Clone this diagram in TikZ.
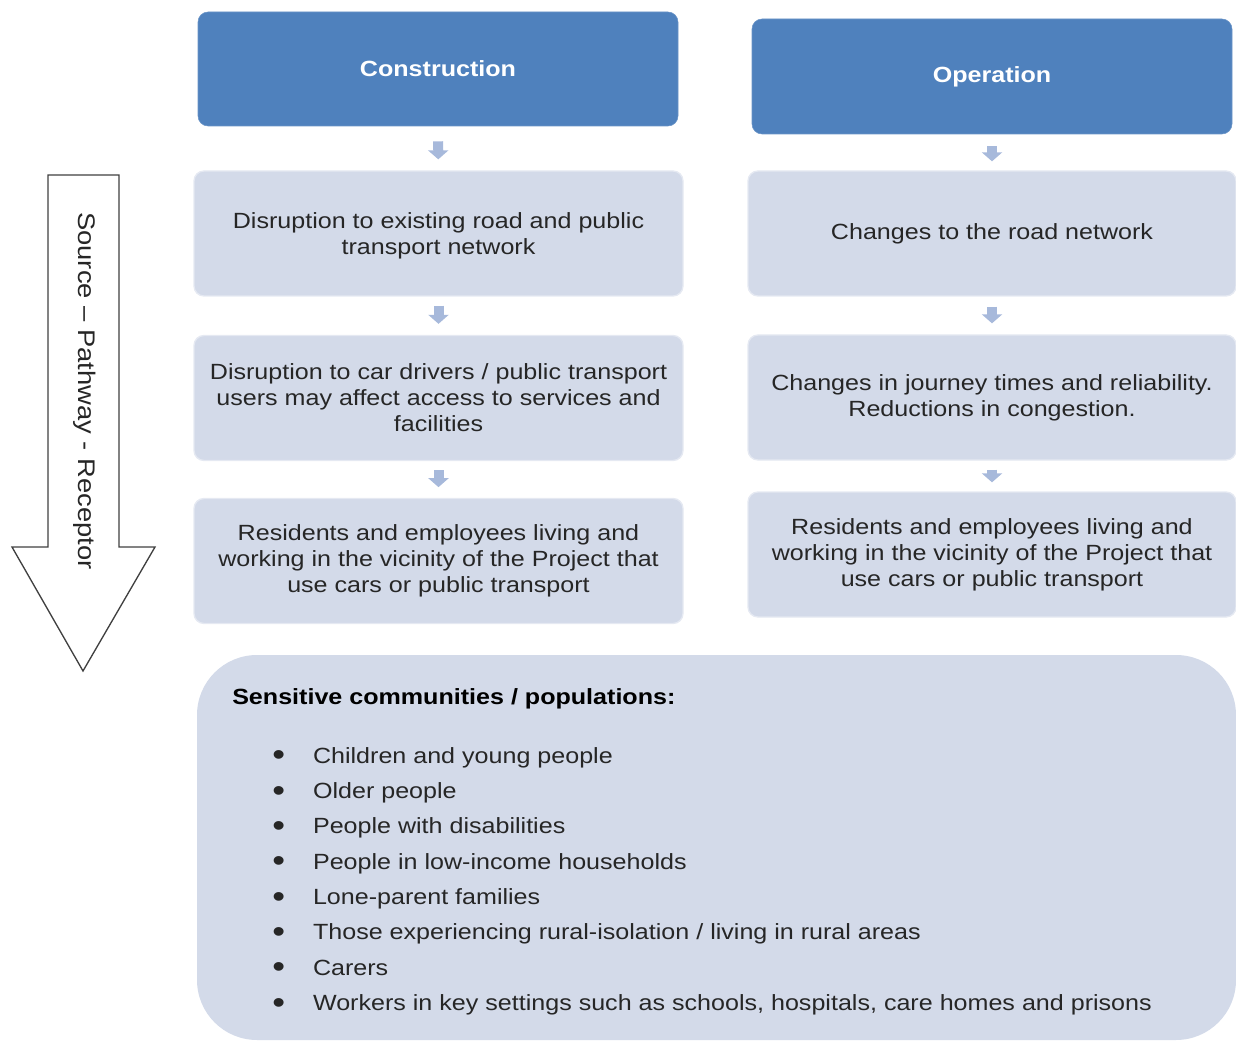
\documentclass[tikz,border=0pt]{standalone}
\usepackage{fontspec}
\setmainfont[FakeStretch=1.14]{Liberation Sans}
\usetikzlibrary{positioning}
\usetikzlibrary{arrows.meta}

\definecolor{headblue}{RGB}{79,129,189}
\definecolor{paleblue}{RGB}{211,218,233}
\definecolor{stepblue}{RGB}{167,185,219}
\definecolor{txtgray}{RGB}{38,38,38}

\newcommand{\grpbullet}{\raisebox{-2pt}{\fontsize{24}{0}\selectfont\textbullet}}

\tikzset{
  head/.style={rectangle, rounded corners=7.5pt, fill=headblue, draw=headblue!85!white, text=white,
    font=\fontsize{16.5}{19.5}\selectfont\bfseries, minimum width=360pt, minimum height=85.5pt, inner sep=0pt},
  effect/.style={rectangle, rounded corners=7.5pt, fill=paleblue, draw=paleblue!60!white, line width=1pt,
    text=txtgray, align=center, font=\fontsize{16.5}{19.5}\selectfont,
    minimum width=366.75pt, minimum height=93.75pt, inner sep=0pt},
  flow/.style={-{Triangle[width=15pt,length=6.75pt]}, line width=7.5pt, stepblue}
}

\begin{document}
\begin{tikzpicture}[x=0.75pt, y=-0.75pt]
				\useasboundingbox (0,0) rectangle (1236,1041);
				
				% source - pathway - receptor arrow
				\draw[line width=1pt, draw=black!75, fill=white] (48,175) -- (119,175) -- (119,547) -- (155,547) -- (83,671) -- (12,547) -- (48,547) -- cycle;
				\node[rotate=-90, text=txtgray, font=\fontsize{18}{20}\selectfont] (spr) at (85,391) {Source -- Pathway - Receptor};
				
				% construction column
				\node[head] (cons) at (438,69) {Construction};
				\node[effect, text depth=-1.5pt] (cdisrupt) at (438.5,233.5) {Disruption to existing road and public\\transport network};
				\node[effect] (cusers) at (438.5,398) {Disruption to car drivers / public transport\\users may affect access to services and\\facilities};
				\node[effect] (creceptor) at (438.5,561) {Residents and employees living and\\working in the vicinity of the Project that\\use cars or public transport};
				
				% operation column
				\node[head, minimum height=86.25pt] (oper) at (992,76.5) {Operation};
				\node[effect, minimum width=366pt] (ochange) at (992,233.5) {Changes to the road network};
				\node[effect, minimum width=366pt] (ojourney) at (992,397.5) {Changes in journey times and reliability.\\Reductions in congestion.};
				\node[effect, minimum width=366pt] (oreceptor) at (992,554.5) {Residents and employees living and\\working in the vicinity of the Project that\\use cars or public transport};
				
				\draw[flow, shorten <=11.25pt, shorten >=8.25pt] (cons) -- (cdisrupt);
				\draw[flow, shorten <=6.75pt, shorten >=8.25pt] (cdisrupt) -- (cusers);
				\draw[flow, shorten <=6.75pt, shorten >=8pt] (cusers) -- (creceptor);
				\draw[flow, shorten <=9pt, shorten >=6.75pt] (oper) -- (ochange);
				\draw[flow, shorten <=7.5pt, shorten >=8.25pt] (ochange) -- (ojourney);
				\draw[flow, shorten <=6.75pt, shorten >=6.75pt] (ojourney) -- (oreceptor);
				
				% sensitive groups
				\node[rectangle, rounded corners=45pt, fill=paleblue, minimum width=779.25pt, minimum height=288.75pt, inner sep=0pt] (sensitive) at (716.5,847.5) {};
				\node[anchor=base west, inner sep=0pt, text=black, font=\fontsize{16.5}{19.5}\selectfont\bfseries] (senstitle) at (232,704) {Sensitive communities / populations:};
				\node[anchor=base west, inner sep=0pt, text=txtgray, font=\fontsize{16.5}{26.5}\selectfont] (groups) at (272,763) {%
					\begin{tabular}[t]{@{}l@{\hspace{21pt}}l@{}}
						\grpbullet & Children and young people\\
						\grpbullet & Older people\\
						\grpbullet & People with disabilities\\
						\grpbullet & People in low-income households\\
						\grpbullet & Lone-parent families\\
						\grpbullet & Those experiencing rural-isolation / living in rural areas\\
						\grpbullet & Carers\\
						\grpbullet & Workers in key settings such as schools, hospitals, care homes and prisons
					\end{tabular}};
			\end{tikzpicture}
\end{document}
